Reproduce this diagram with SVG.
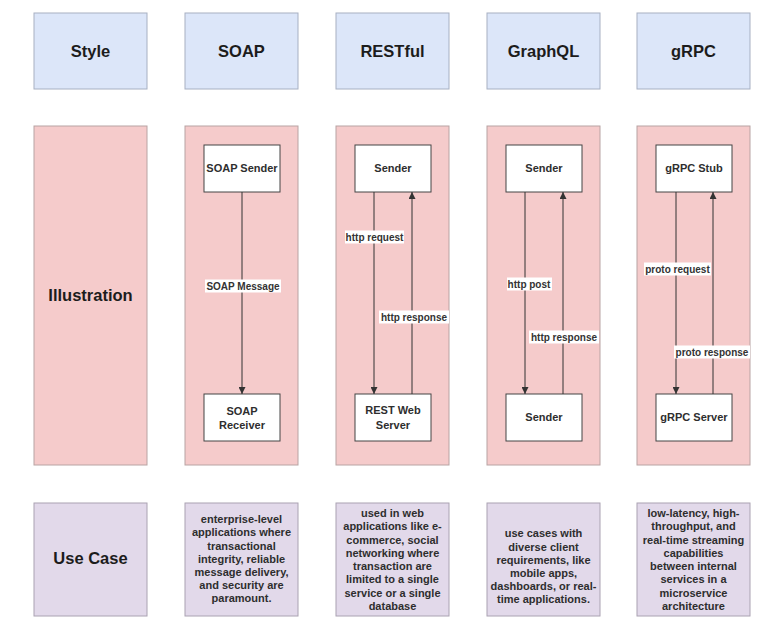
<svg xmlns="http://www.w3.org/2000/svg" width="776" height="630" viewBox="0 0 776 630">
<defs>
<style>
.hdr{fill:#dce6f9;stroke:#a7b0c2;stroke-width:1}
.ill{fill:#f5cbcb;stroke:#b8a3a3;stroke-width:1}
.use{fill:#e2d9ea;stroke:#aaa2b2;stroke-width:1}
.box{fill:#ffffff;stroke:#444444;stroke-width:1}
.big{font-family:"Liberation Sans",Arial,sans-serif;font-size:16.5px;font-weight:bold;fill:#1c1c1c;text-anchor:middle}
.t{font-family:"Liberation Sans",Arial,sans-serif;font-size:11px;font-weight:bold;fill:#2e2e2e;text-anchor:middle}
.lbl{font-family:"Liberation Sans",Arial,sans-serif;font-size:10px;font-weight:bold;fill:#333333;text-anchor:middle}
.lblbg{fill:#ffffff;stroke:none}
.edge{stroke:#333333;stroke-width:1;fill:none;marker-end:url(#arr)}
</style>
<marker id="arr" viewBox="0 0 10 10" refX="10" refY="5" markerWidth="7" markerHeight="7" markerUnits="userSpaceOnUse" orient="auto">
<path d="M0,0 L10,5 L0,10 z" fill="#333333"/>
</marker>
</defs>
<rect width="776" height="630" fill="#ffffff"/>

<!-- Header row -->
<g id="hdr-style"><rect class="hdr" x="34" y="13" width="113" height="76"/><text class="big" x="90.5" y="57">Style</text></g>
<g id="hdr-soap"><rect class="hdr" x="185" y="13" width="113" height="76"/><text class="big" x="241.5" y="57">SOAP</text></g>
<g id="hdr-rest"><rect class="hdr" x="336" y="13" width="113" height="76"/><text class="big" x="392.5" y="57">RESTful</text></g>
<g id="hdr-graphql"><rect class="hdr" x="487" y="13" width="113" height="76"/><text class="big" x="543.5" y="57">GraphQL</text></g>
<g id="hdr-grpc"><rect class="hdr" x="637" y="13" width="113" height="76"/><text class="big" x="693.5" y="57">gRPC</text></g>

<!-- Illustration row -->
<g id="ill-style"><rect class="ill" x="34" y="126" width="113" height="339"/><text class="big" x="90.5" y="301">Illustration</text></g>
<g id="ill-soap"><rect class="ill" x="185" y="126" width="113" height="339"/></g>
<g id="ill-rest"><rect class="ill" x="336" y="126" width="113" height="339"/></g>
<g id="ill-graphql"><rect class="ill" x="487" y="126" width="113" height="339"/></g>
<g id="ill-grpc"><rect class="ill" x="637" y="126" width="113" height="339"/></g>

<!-- Inner nodes -->
<g id="soap-sender"><rect class="box" x="204" y="145" width="76" height="47"/><text class="t" x="242" y="172">SOAP Sender</text></g>
<g id="soap-receiver"><rect class="box" x="204" y="394" width="76" height="47"/><text class="t" x="242" y="415">SOAP</text><text class="t" x="242" y="429">Receiver</text></g>
<g id="rest-sender"><rect class="box" x="355" y="145" width="76" height="47"/><text class="t" x="393" y="172">Sender</text></g>
<g id="rest-server"><rect class="box" x="355" y="394" width="76" height="47"/><text class="t" x="393" y="414">REST Web</text><text class="t" x="393" y="429">Server</text></g>
<g id="gql-sender"><rect class="box" x="506" y="145" width="76" height="47"/><text class="t" x="544" y="172">Sender</text></g>
<g id="gql-sender2"><rect class="box" x="506" y="394" width="76" height="47"/><text class="t" x="544" y="421">Sender</text></g>
<g id="grpc-stub"><rect class="box" x="656" y="145" width="76" height="47"/><text class="t" x="694" y="172">gRPC Stub</text></g>
<g id="grpc-server"><rect class="box" x="656" y="394" width="76" height="47"/><text class="t" x="694" y="421">gRPC Server</text></g>

<!-- Connectors -->
<g id="connectors">
<line class="edge" x1="242" y1="192" x2="242" y2="394"/>
<rect class="lblbg" x="205" y="279.5" width="76" height="13"/>
<text class="lbl" x="243" y="289.5">SOAP Message</text>

<line class="edge" x1="374" y1="192" x2="374" y2="394"/>
<rect class="lblbg" x="345" y="230.5" width="59" height="13"/>
<text class="lbl" x="374.5" y="240.5">http request</text>
<line class="edge" x1="412" y1="394" x2="412" y2="192"/>
<rect class="lblbg" x="379" y="310.5" width="70" height="13"/>
<text class="lbl" x="414" y="320.5">http response</text>

<line class="edge" x1="525" y1="192" x2="525" y2="394"/>
<rect class="lblbg" x="507" y="277.5" width="45" height="13"/>
<text class="lbl" x="529" y="287.5">http post</text>
<line class="edge" x1="563" y1="394" x2="563" y2="192"/>
<rect class="lblbg" x="529" y="330.5" width="70" height="13"/>
<text class="lbl" x="564" y="340.5">http response</text>

<line class="edge" x1="676" y1="192" x2="676" y2="394"/>
<rect class="lblbg" x="644" y="262.5" width="67" height="13"/>
<text class="lbl" x="677.5" y="272.5">proto request</text>
<line class="edge" x1="713" y1="394" x2="713" y2="192"/>
<rect class="lblbg" x="674" y="345.5" width="76" height="13"/>
<text class="lbl" x="712" y="355.5">proto response</text>
</g>

<!-- Use case row -->
<g id="use-style"><rect class="use" x="34" y="503" width="113" height="113"/><text class="big" x="90.5" y="564">Use Case</text></g>
<g id="use-soap"><rect class="use" x="185" y="503" width="113" height="113"/>
<text class="t" x="241.5" y="523">enterprise-level</text>
<text class="t" x="241.5" y="536">applications where</text>
<text class="t" x="241.5" y="550">transactional</text>
<text class="t" x="241.5" y="563">integrity, reliable</text>
<text class="t" x="241.5" y="576">message delivery,</text>
<text class="t" x="241.5" y="589">and security are</text>
<text class="t" x="241.5" y="602">paramount.</text>
</g>
<g id="use-rest"><rect class="use" x="336" y="503" width="113" height="113"/>
<text class="t" x="392.5" y="517">used in web</text>
<text class="t" x="392.5" y="530">applications like e-</text>
<text class="t" x="392.5" y="543.5">commerce, social</text>
<text class="t" x="392.5" y="557">networking where</text>
<text class="t" x="392.5" y="570">transaction are</text>
<text class="t" x="392.5" y="583">limited to a single</text>
<text class="t" x="392.5" y="596.5">service or a single</text>
<text class="t" x="392.5" y="610">database</text>
</g>
<g id="use-graphql"><rect class="use" x="487" y="503" width="113" height="113"/>
<text class="t" x="543.5" y="537">use cases with</text>
<text class="t" x="543.5" y="551">diverse client</text>
<text class="t" x="543.5" y="564">requirements, like</text>
<text class="t" x="543.5" y="577">mobile apps,</text>
<text class="t" x="543.5" y="590">dashboards, or real-</text>
<text class="t" x="543.5" y="603">time applications.</text>
</g>
<g id="use-grpc"><rect class="use" x="637" y="503" width="113" height="113"/>
<text class="t" x="693.5" y="517">low-latency, high-</text>
<text class="t" x="693.5" y="530">throughput, and</text>
<text class="t" x="693.5" y="543.5">real-time streaming</text>
<text class="t" x="693.5" y="557">capabilities</text>
<text class="t" x="693.5" y="570">between internal</text>
<text class="t" x="693.5" y="583">services in a</text>
<text class="t" x="693.5" y="596.5">microservice</text>
<text class="t" x="693.5" y="610">architecture</text>
</g>
</svg>
